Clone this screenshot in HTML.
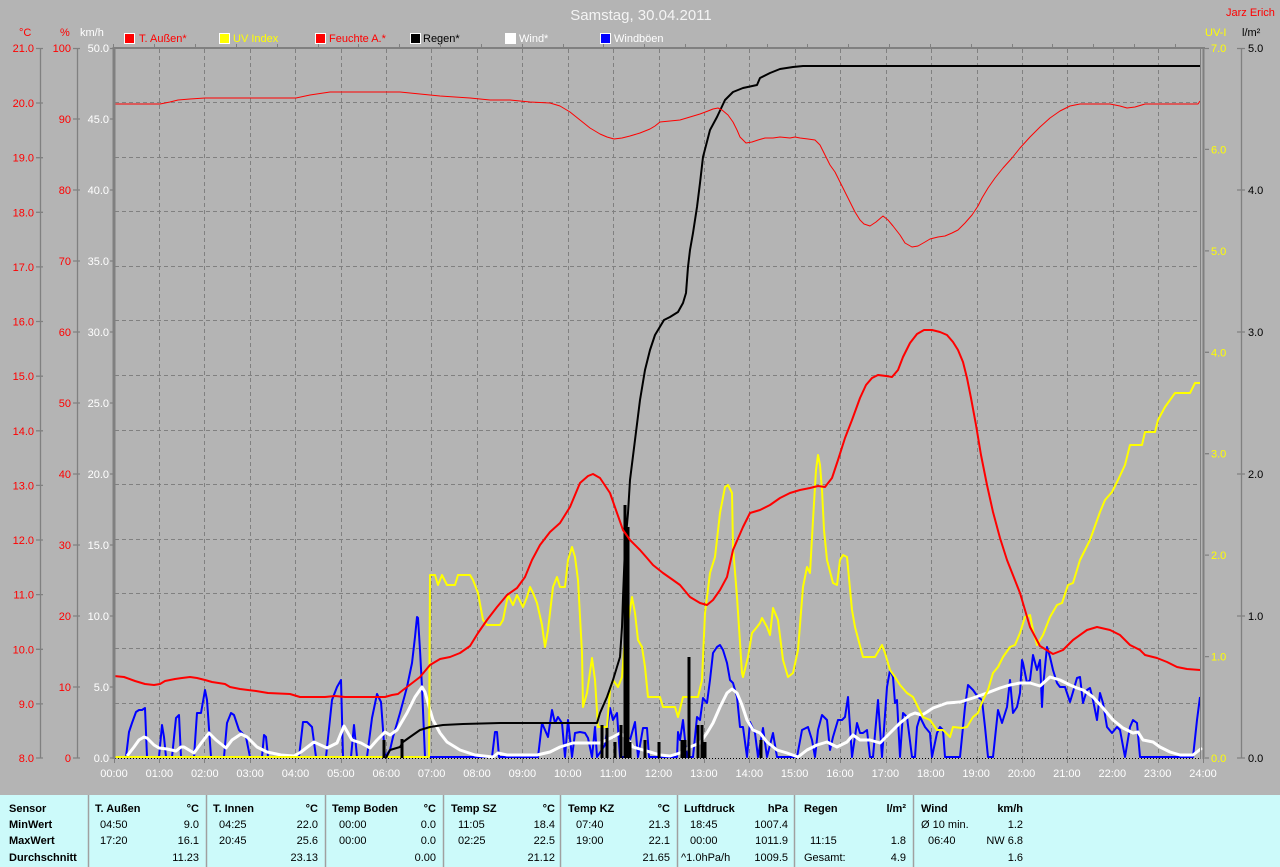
<!DOCTYPE html>
<html><head><meta charset="utf-8"><style>
html,body{margin:0;padding:0;background:#b4b4b4;}
body{width:1280px;height:867px;overflow:hidden;}
svg{display:block;font-family:"Liberation Sans",sans-serif;}
</style></head><body>
<svg width="1280" height="867" viewBox="0 0 1280 867" xmlns="http://www.w3.org/2000/svg">
<rect x="0" y="0" width="1280" height="867" fill="#b4b4b4"/>
<!-- title -->
<text x="641" y="20" font-size="15" fill="#f4f4f4" text-anchor="middle">Samstag, 30.04.2011</text>
<text x="1226" y="16" font-size="11" fill="#ff0000">Jarz Erich</text>
<!-- axis headers -->
<text x="19" y="36" font-size="11" fill="#ff0000">°C</text>
<text x="60" y="36" font-size="11" fill="#ff0000">%</text>
<text x="80" y="36" font-size="11" fill="#ffffff">km/h</text>
<text x="1205" y="36" font-size="11" fill="#ffff00">UV-I</text>
<text x="1242" y="36" font-size="11" fill="#000000">l/m²</text>
<!-- legend -->
<g font-size="11">
<rect x="124.5" y="33.5" width="10" height="10" fill="#ff0000" stroke="#fff"/><text x="139" y="42" fill="#ff0000">T. Außen*</text>
<rect x="219.5" y="33.5" width="10" height="10" fill="#ffff00" stroke="#fff"/><text x="233" y="42" fill="#ffff00">UV Index</text>
<rect x="315.5" y="33.5" width="10" height="10" fill="#ff0000" stroke="#fff"/><text x="329" y="42" fill="#ff0000">Feuchte A.*</text>
<rect x="410.5" y="33.5" width="10" height="10" fill="#000000" stroke="#fff"/><text x="423" y="42" fill="#000000">Regen*</text>
<rect x="505.5" y="33.5" width="10" height="10" fill="#ffffff" stroke="#fff"/><text x="519" y="42" fill="#ffffff">Wind*</text>
<rect x="600.5" y="33.5" width="10" height="10" fill="#0000ff" stroke="#fff"/><text x="614" y="42" fill="#ffffff">Windböen</text>
</g>
<!-- grid -->
<g stroke="#808080" stroke-width="1" stroke-dasharray="4,3" fill="none">
<path d="M159.5 49V758M204.5 49V758M250.5 49V758M295.5 49V758M341.5 49V758M386.5 49V758M431.5 49V758M477.5 49V758M522.5 49V758M568.5 49V758M613.5 49V758M659.5 49V758M704.5 49V758M749.5 49V758M795.5 49V758M840.5 49V758M886.5 49V758M931.5 49V758M977.5 49V758M1022.5 49V758M1067.5 49V758M1113.5 49V758M1158.5 49V758"/>
<path d="M115 102.5H1200M115 157.5H1200M115 211.5H1200M115 266.5H1200M115 320.5H1200M115 375.5H1200M115 430.5H1200M115 484.5H1200M115 539.5H1200M115 593.5H1200M115 648.5H1200M115 703.5H1200"/>
</g>
<!-- left axes -->
<g stroke="#808080" stroke-width="1.3" fill="none">
<path d="M40.5 48V758M77.5 48V758M1241.5 48V758"/>
<path d="M36 48.5H43M36 103H43M36 157.7H43M36 212.3H43M36 266.9H43M36 321.5H43M36 376.2H43M36 430.8H43M36 485.4H43M36 540H43M36 594.6H43M36 649.3H43M36 703.9H43M36 758H43"/>
<path d="M73 48.5H80M73 119H80M73 190H80M73 261H80M73 332H80M73 403H80M73 474H80M73 545H80M73 616H80M73 687H80M73 758H80"/>
<path d="M110 48.5H114M110 119H114M110 190H114M110 261H114M110 332H114M110 403H114M110 474H114M110 545H114M110 616H114M110 687H114M110 758H114"/>
<path d="M1205 48.5H1209M1205 149.4H1209M1205 250.9H1209M1205 352.3H1209M1205 453.7H1209M1205 555.1H1209M1205 656.6H1209M1205 758H1209"/>
<path d="M1237 48.5H1245M1237 190H1245M1237 332H1245M1237 474H1245M1237 616H1245M1237 758H1245"/>
</g>
<g font-size="11" fill="#ff0000" text-anchor="end">
<text x="34" y="52">21.0</text><text x="34" y="107">20.0</text><text x="34" y="161.7">19.0</text><text x="34" y="216.3">18.0</text><text x="34" y="270.9">17.0</text><text x="34" y="325.5">16.0</text><text x="34" y="380.2">15.0</text><text x="34" y="434.8">14.0</text><text x="34" y="489.4">13.0</text><text x="34" y="544">12.0</text><text x="34" y="598.6">11.0</text><text x="34" y="653.3">10.0</text><text x="34" y="707.9">9.0</text><text x="34" y="762">8.0</text>
<text x="71" y="52">100</text><text x="71" y="123">90</text><text x="71" y="194">80</text><text x="71" y="265">70</text><text x="71" y="336">60</text><text x="71" y="407">50</text><text x="71" y="478">40</text><text x="71" y="549">30</text><text x="71" y="620">20</text><text x="71" y="691">10</text><text x="71" y="762">0</text>
</g>
<g font-size="11" fill="#ffffff" text-anchor="end">
<text x="109" y="52">50.0</text><text x="109" y="123">45.0</text><text x="109" y="194">40.0</text><text x="109" y="265">35.0</text><text x="109" y="336">30.0</text><text x="109" y="407">25.0</text><text x="109" y="478">20.0</text><text x="109" y="549">15.0</text><text x="109" y="620">10.0</text><text x="109" y="691">5.0</text><text x="109" y="762">0.0</text>
</g>
<g font-size="11" fill="#ffff00">
<text x="1211" y="52">7.0</text><text x="1211" y="153.4">6.0</text><text x="1211" y="254.9">5.0</text><text x="1211" y="356.3">4.0</text><text x="1211" y="457.7">3.0</text><text x="1211" y="559.1">2.0</text><text x="1211" y="660.6">1.0</text><text x="1211" y="762">0.0</text>
</g>
<g font-size="11" fill="#000000">
<text x="1248" y="52">5.0</text><text x="1248" y="194">4.0</text><text x="1248" y="336">3.0</text><text x="1248" y="478">2.0</text><text x="1248" y="620">1.0</text><text x="1248" y="762">0.0</text>
</g>
<!-- x axis -->
<g stroke="#808080" stroke-width="1" fill="none">
<path d="M114.5 758V763M159.5 758V763M204.5 758V763M250.5 758V763M295.5 758V763M341.5 758V763M386.5 758V763M431.5 758V763M477.5 758V763M522.5 758V763M568.5 758V763M613.5 758V763M659.5 758V763M704.5 758V763M749.5 758V763M795.5 758V763M840.5 758V763M886.5 758V763M931.5 758V763M977.5 758V763M1022.5 758V763M1067.5 758V763M1113.5 758V763M1158.5 758V763M1203.5 758V763"/>
<path d="M113.5 44V48M154.5 44V48M195.5 44V48M236.5 44V48M277.5 44V48M318.5 44V48M358.5 44V48M399.5 44V48M440.5 44V48M481.5 44V48M522.5 44V48M563.5 44V48M603.5 44V48M644.5 44V48M685.5 44V48M726.5 44V48M767.5 44V48M807.5 44V48M848.5 44V48M889.5 44V48M930.5 44V48M971.5 44V48M1012.5 44V48M1052.5 44V48M1093.5 44V48M1134.5 44V48M1175.5 44V48"/>
</g>
<g font-size="11" fill="#ffffff" text-anchor="middle">
<text x="114" y="777">00:00</text><text x="159.4" y="777">01:00</text><text x="204.8" y="777">02:00</text><text x="250.1" y="777">03:00</text><text x="295.5" y="777">04:00</text><text x="340.9" y="777">05:00</text><text x="386.3" y="777">06:00</text><text x="431.6" y="777">07:00</text><text x="477" y="777">08:00</text><text x="522.4" y="777">09:00</text><text x="567.8" y="777">10:00</text><text x="613.1" y="777">11:00</text><text x="658.5" y="777">12:00</text><text x="703.9" y="777">13:00</text><text x="749.3" y="777">14:00</text><text x="794.6" y="777">15:00</text><text x="840" y="777">16:00</text><text x="885.4" y="777">17:00</text><text x="930.8" y="777">18:00</text><text x="976.1" y="777">19:00</text><text x="1021.5" y="777">20:00</text><text x="1066.9" y="777">21:00</text><text x="1112.3" y="777">22:00</text><text x="1157.6" y="777">23:00</text><text x="1203" y="777">24:00</text>
</g>
<!-- series -->
<g fill="none" stroke-linejoin="round">
<polyline stroke="#0000ff" stroke-width="2" points="126,757 129,732 132,723 136,712 139,710 142,710 145,708 147,757 159,757 162,725 164,737 166,757 172,757 176,718 179,715 181,757 194,757 197,713 201,713 205,690 207,700 211,757 224,757 227,723 231,713 234,715 239,730 246,737 250,757 262,757 264,735 266,737 268,757 299,757 303,722 307,722 312,727 316,757 326,757 332,700 337,687 341,680 343,757 351,757 354,725 357,757 367,757 372,718 377,694 381,702 385,757 390,750 393,737 400,713 407,687 412,663 415,637 417,617 418,618 420,650 422,687 425,757 492,757 495,732 497,732 499,757 538,757 542,723 545,730 548,737 552,710 555,723 558,717 562,723 565,757 568,720 572,757 575,733 580,732 585,733 588,738 592,757 595,727 597,757 605,745 610,708 613,720 617,713 620,757 625,757 630,740 635,722 638,757 643,728 647,728 649,757 677,757 678,732 680,740 683,720 685,740 687,757 693,757 697,717 700,720 703,698 707,703 710,680 713,653 717,647 720,645 723,650 727,663 730,680 733,683 737,697 740,727 743,727 747,757 750,722 755,733 758,757 763,728 767,757 773,733 777,757 797,757 802,730 808,727 812,740 815,757 818,730 822,715 827,720 830,750 833,737 838,720 842,720 845,717 848,697 852,757 857,723 860,733 863,733 867,730 870,757 873,757 878,700 882,757 887,687 890,670 893,677 895,703 897,700 900,757 903,713 907,717 912,757 915,757 917,727 920,717 925,727 930,733 932,757 937,733 940,727 943,730 945,757 960,757 965,707 968,685 973,690 978,697 982,700 985,727 988,757 993,757 998,710 1002,723 1007,707 1010,680 1013,713 1017,707 1020,693 1022,660 1023,663 1027,683 1030,680 1033,655 1037,670 1040,660 1042,707 1043,687 1047,647 1050,657 1053,670 1057,683 1060,687 1065,687 1070,702 1073,692 1077,678 1080,677 1083,703 1087,690 1090,688 1093,700 1097,720 1100,693 1103,703 1107,727 1112,733 1117,727 1120,730 1125,757 1130,727 1133,720 1137,723 1140,757 1193,757 1197,720 1200,697"/>
<polyline stroke="#ffffff" stroke-width="3" points="127,756 134,747 139,740 144,737 147,738 154,745 159,748 167,749 176,751 181,747 184,747 194,753 202,742 209,733 216,740 226,748 232,740 241,734 247,737 257,747 267,752 281,755 294,756 301,752 314,742 327,748 337,743 344,726 352,740 361,743 370,748 377,740 385,732 390,735 397,730 407,713 415,697 422,687 425,692 428,703 433,720 440,733 447,742 460,750 475,755 493,757 498,753 507,755 537,755 550,752 560,747 573,743 600,743 613,737 620,733 627,738 633,747 643,750 650,752 660,755 670,756 680,753 690,747 700,743 707,733 713,723 720,707 727,693 732,689 737,693 742,705 747,720 753,730 760,733 767,742 777,750 787,753 798,757 807,750 817,745 827,742 837,747 847,742 853,735 860,740 870,740 880,743 890,733 900,723 910,715 915,713 922,715 927,712 933,708 947,703 960,702 973,698 987,693 1000,688 1010,685 1020,683 1030,683 1040,686 1050,677 1060,680 1070,685 1077,688 1083,690 1093,697 1103,708 1113,720 1123,728 1133,733 1138,732 1143,740 1153,742 1160,747 1170,752 1180,755 1193,755 1202,748"/>
<polyline stroke="#ffff00" stroke-width="2" points="114,757 429,757 430,575 435,575 438,585 442,575 447,585 455,585 458,575 470,575 473,580 478,593 483,620 487,625 500,625 503,620 508,595 513,605 517,595 523,607 527,597 530,587 533,593 537,603 542,625 545,647 548,630 553,587 557,577 560,587 565,587 568,560 572,547 575,557 578,580 582,653 583,707 587,693 592,658 595,680 598,727 607,727 610,690 613,680 618,687 622,677 625,637 628,623 632,597 635,613 638,640 642,647 645,667 648,697 660,697 663,707 675,707 678,717 683,697 698,697 702,680 705,613 710,573 715,557 720,513 725,487 728,485 732,493 733,547 737,597 742,673 743,677 748,657 752,633 757,627 760,623 762,618 767,627 770,635 773,608 778,620 783,660 788,677 793,673 798,650 803,587 807,567 810,573 813,520 816,470 818,455 820,465 822,490 824,530 827,560 833,583 837,585 840,560 843,555 847,557 852,610 855,627 863,657 875,657 882,645 885,653 890,670 895,677 900,685 907,693 913,697 918,707 923,717 930,720 937,730 943,730 950,737 953,727 962,728 967,727 973,717 978,713 983,700 988,690 993,673 998,667 1003,657 1010,647 1015,645 1020,633 1025,617 1030,615 1033,630 1037,645 1043,635 1050,617 1057,605 1062,603 1068,585 1073,583 1080,560 1090,540 1100,512 1105,500 1112,492 1118,480 1125,465 1130,445 1142,445 1145,432 1155,432 1158,420 1165,407 1175,393 1190,393 1195,383 1200,383"/>
<g stroke="#000000" stroke-width="3">
<path d="M384 758V740M402 758V739M602 758V725M607 758V728M615 758V742M621 758V725M625 758V505M628 758V527M630 758V742M645 758V740M659 758V742M682 758V740M685 758V740M689 758V657M698 758V725M702 758V725M705 758V742M761 758V740"/>
</g>
<polyline stroke="#000000" stroke-width="2" points="386,758 390,750 400,747 403,742 410,737 420,730 430,727 443,725 463,724 500,723 597,723 600,713 607,697 613,680 620,657 622,627 623,597 625,547 628,513 630,480 635,440 640,400 645,370 650,350 655,335 658,330 664,320 670,317 678,312 683,303 686,293 688,267 690,250 693,233 697,207 700,183 703,157 710,130 717,117 725,100 733,92 743,88 757,85 760,78 770,73 780,69 793,67 803,66 1200,66"/>
<polyline stroke="#ff0000" stroke-width="1" points="114,104 160,104 170,102 178,100 190,99 205,98 240,98 296,98 310,95 330,92 360,92 400,92 420,94 440,96 470,98 490,100 510,100 530,102 550,103 560,106 570,112 580,120 590,128 600,134 607,137 614,139 622,138 630,136 640,133 650,129 655,126 660,122 670,121 680,120 690,117 700,114 708,111 713,109 718,108 722,110 728,115 733,122 737,130 740,137 746,143 752,142 758,140 765,138 773,138 780,137 790,138 795,137 800,138 808,139 815,140 820,145 825,155 830,165 835,172 840,182 845,192 850,202 855,212 860,220 864,224 870,226 876,222 883,216 888,220 893,226 900,235 905,243 912,247 918,246 925,242 930,239 938,237 945,236 952,233 958,230 965,223 972,215 978,206 982,198 988,188 995,178 1003,168 1012,158 1020,148 1030,137 1040,127 1050,118 1060,111 1070,106 1080,104 1095,104 1110,104 1120,106 1127,108 1135,107 1145,104 1160,104 1180,104 1198,104 1200,101"/>
<polyline stroke="#ff0000" stroke-width="2" points="114,676 124,677 135,681 145,684 154,685 160,684 165,681 175,679 182,678 190,677 197,678 205,680 212,682 225,684 230,687 240,689 256,691 268,693 290,694 300,697 325,697 335,696 345,697 385,697 392,695 398,694 403,690 407,687 420,677 430,665 440,659 450,657 460,653 470,646 478,633 487,620 497,607 507,595 517,588 525,577 532,560 540,545 550,532 560,523 570,507 580,483 588,476 593,474 600,478 610,493 617,513 623,530 630,540 640,550 647,558 653,565 663,573 673,580 680,585 690,597 700,603 707,605 713,600 720,590 727,577 733,550 743,527 750,513 760,510 770,505 780,498 790,493 800,490 810,488 818,486 825,487 832,478 838,460 845,438 852,420 860,398 866,385 872,378 878,375 886,376 892,377 898,370 903,357 910,343 917,334 924,330 932,330 940,332 947,335 953,342 958,350 963,362 967,378 971,398 976,425 981,455 987,485 993,512 1000,538 1007,560 1020,593 1025,610 1030,627 1040,646 1053,654 1063,650 1073,640 1087,630 1097,627 1110,630 1120,635 1130,645 1140,650 1145,655 1157,658 1167,662 1177,667 1187,669 1200,670"/>
</g>
<!-- frame -->
<path d="M115 758.5H1201" stroke="#000" stroke-width="1" stroke-dasharray="1,2" fill="none"/>
<g stroke="#808080" fill="none">
<path d="M114 47V759" stroke-width="3"/>
<path d="M113 48H1205" stroke-width="2"/>
<path d="M1200.5 48V759" stroke-width="1"/>
<path d="M1203.5 47V759" stroke-width="2"/>
</g>
<!-- table -->
<rect x="0" y="795" width="1280" height="72" fill="#ccfafa"/>
<g stroke="#a0a0a0" stroke-width="1.5">
<path d="M88.5 795V867M206.5 795V867M325.5 795V867M443.5 795V867M560.5 795V867M677.5 795V867M794.5 795V867M913.5 795V867"/>
</g>
<g font-size="11" fill="#000" font-weight="bold">
<text x="9" y="812">Sensor</text><text x="9" y="828">MinWert</text><text x="9" y="844">MaxWert</text><text x="9" y="861">Durchschnitt</text>
<text x="95" y="812">T. Außen</text><text x="199" y="812" text-anchor="end">°C</text>
<text x="213" y="812">T. Innen</text><text x="318" y="812" text-anchor="end">°C</text>
<text x="332" y="812">Temp Boden</text><text x="436" y="812" text-anchor="end">°C</text>
<text x="451" y="812">Temp SZ</text><text x="555" y="812" text-anchor="end">°C</text>
<text x="568" y="812">Temp KZ</text><text x="670" y="812" text-anchor="end">°C</text>
<text x="684" y="812">Luftdruck</text><text x="788" y="812" text-anchor="end">hPa</text>
<text x="804" y="812">Regen</text><text x="906" y="812" text-anchor="end">l/m²</text>
<text x="921" y="812">Wind</text><text x="1023" y="812" text-anchor="end">km/h</text>
</g>
<g font-size="11" fill="#000">
<text x="100" y="828">04:50</text><text x="199" y="828" text-anchor="end">9.0</text>
<text x="100" y="844">17:20</text><text x="199" y="844" text-anchor="end">16.1</text>
<text x="199" y="861" text-anchor="end">11.23</text>
<text x="219" y="828">04:25</text><text x="318" y="828" text-anchor="end">22.0</text>
<text x="219" y="844">20:45</text><text x="318" y="844" text-anchor="end">25.6</text>
<text x="318" y="861" text-anchor="end">23.13</text>
<text x="339" y="828">00:00</text><text x="436" y="828" text-anchor="end">0.0</text>
<text x="339" y="844">00:00</text><text x="436" y="844" text-anchor="end">0.0</text>
<text x="436" y="861" text-anchor="end">0.00</text>
<text x="458" y="828">11:05</text><text x="555" y="828" text-anchor="end">18.4</text>
<text x="458" y="844">02:25</text><text x="555" y="844" text-anchor="end">22.5</text>
<text x="555" y="861" text-anchor="end">21.12</text>
<text x="576" y="828">07:40</text><text x="670" y="828" text-anchor="end">21.3</text>
<text x="576" y="844">19:00</text><text x="670" y="844" text-anchor="end">22.1</text>
<text x="670" y="861" text-anchor="end">21.65</text>
<text x="690" y="828">18:45</text><text x="788" y="828" text-anchor="end">1007.4</text>
<text x="690" y="844">00:00</text><text x="788" y="844" text-anchor="end">1011.9</text>
<text x="681" y="861">^1.0hPa/h</text><text x="788" y="861" text-anchor="end">1009.5</text>
<text x="810" y="844">11:15</text><text x="906" y="844" text-anchor="end">1.8</text>
<text x="804" y="861">Gesamt:</text><text x="906" y="861" text-anchor="end">4.9</text>
<text x="921" y="828">Ø 10 min.</text><text x="1023" y="828" text-anchor="end">1.2</text>
<text x="928" y="844">06:40</text><text x="1023" y="844" text-anchor="end">NW 6.8</text>
<text x="1023" y="861" text-anchor="end">1.6</text>
</g>
</svg>
</body></html>
